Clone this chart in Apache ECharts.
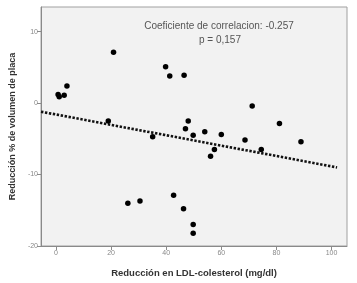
<!DOCTYPE html>
<html>
<head>
<meta charset="utf-8">
<script src="https://cdn.jsdelivr.net/npm/echarts@6/dist/echarts.min.js"></script>
<style>html,body{margin:0;padding:0;background:#fff}#c{width:357px;height:283px}</style>
</head>
<body>
<div id="c"></div>
<script>
const ldlReduction = [0.8,1.2,3.0,4.0,20.9,19.0,35.1,39.8,41.3,46.5,48.0,47.0,49.8,54.0,60.0,71.2,68.6,57.5,56.1,74.5,81.1,88.9,26.1,30.5,42.7,46.3,49.8,49.8];
const plaqueReduction = [1.2,0.9,1.1,2.4,7.1,-2.5,-4.7,5.1,3.8,3.9,-2.5,-3.6,-4.5,-4.0,-4.4,-0.4,-5.15,-6.5,-7.45,-6.5,-2.85,-5.4,-14.0,-13.7,-12.9,-14.8,-17.0,-18.2];
const fitX = [-5.4, 102];
const fitY = [-1.2, -9.0];
const xTicks = [0,20,40,60,80,100];
const yTicks = [-20,-10,0,10];
const xTitle = 'Reducción en LDL-colesterol (mg/dl)';
const yTitle = 'Reducción % de volumen de placa';
const annot = ['Coeficiente de correlacion: -0.257', 'p = 0,157'];

const chart = echarts.init(document.getElementById('c'));
chart.setOption({
  animation: false,
  backgroundColor: '#fff',
  grid: {left: 40, top: 7, right: 10, bottom: 34, show: true, backgroundColor: '#f2f2f2', borderColor: '#a0a0a0', borderWidth: 1},
  xAxis: {
    type: 'value', min: -5.4, max: 105.6,
    splitLine: {show: false},
    axisLine: {show: true, onZero: false, lineStyle: {color: '#8a8a8a'}},
    axisTick: {show: true, length: 4, customValues: xTicks, lineStyle: {color: '#8a8a8a'}},
    axisLabel: {customValues: xTicks, color: '#888', fontSize: 7, margin: 4, fontFamily: 'Liberation Sans'},
    name: xTitle, nameLocation: 'middle', nameGap: 22,
    nameTextStyle: {fontSize: 9.5, fontWeight: 'bold', color: '#333', fontFamily: 'Liberation Sans'}
  },
  yAxis: {
    type: 'value', min: -20, max: 13.45,
    splitLine: {show: false},
    axisLine: {show: true, onZero: false, lineStyle: {color: '#8a8a8a'}},
    axisTick: {show: true, length: 4, customValues: yTicks, lineStyle: {color: '#8a8a8a'}},
    axisLabel: {customValues: yTicks, color: '#888', fontSize: 7, margin: 3, fontFamily: 'Liberation Sans'},
    name: yTitle, nameLocation: 'middle', nameGap: 21,
    nameTextStyle: {fontSize: 9, fontWeight: 'bold', color: '#333', fontFamily: 'Liberation Sans'}
  },
  graphic: [
    {type: 'text', x: 219, y: 26, style: {text: annot[0], align: 'center', verticalAlign: 'middle', fontSize: 10, fill: '#555', fontFamily: 'Liberation Sans'}},
    {type: 'text', x: 220, y: 40, style: {text: annot[1], align: 'center', verticalAlign: 'middle', fontSize: 10, fill: '#555', fontFamily: 'Liberation Sans'}}
  ],
  series: [
    {
      type: 'line', data: fitX.map((v,i)=>[v, fitY[i]]), symbol: 'none',
      lineStyle: {color: '#111', width: 2.6, type: [2.4, 1.6]}, z: 1
    },
    {
      type: 'scatter', data: ldlReduction.map((v,i)=>[v, plaqueReduction[i]]),
      symbol: 'circle', symbolSize: 5.5, itemStyle: {color: '#000', opacity: 1}, z: 2
    }
  ]
});
</script>
</body>
</html>
